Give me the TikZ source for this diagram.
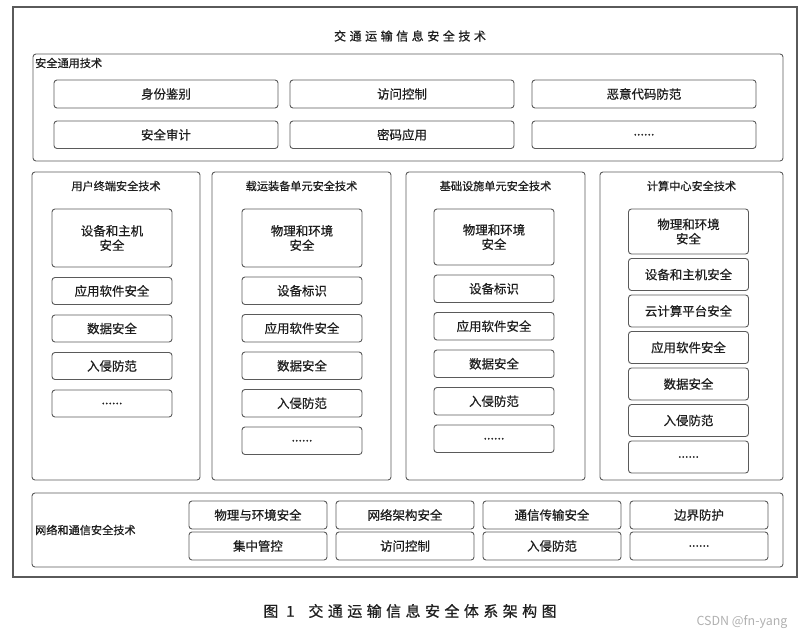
\documentclass[tikz,border=0pt]{standalone}
\usepackage{fontspec}
\setmainfont{Noto Sans CJK SC}[FakeBold=0.6]
\newfontfamily\spacedcjk[LetterSpace=30, FakeBold=0.8]{Noto Sans CJK SC}
\newfontfamily\markfont{Noto Sans CJK SC}
\usepackage{tikz}
\usetikzlibrary{positioning}
\definecolor{frameGrey}{HTML}{5A5A5A}
\definecolor{inkGrey}{HTML}{1E1E1E}
\definecolor{markGrey}{HTML}{B0B0B0}
\tikzset{
  outer/.style = {draw=frameGrey, line width=1.1bp, inner sep=0pt, outer sep=0pt},
  zone/.style  = {draw=frameGrey, line width=0.9bp, rounded corners=3bp, inner sep=0pt, outer sep=0pt},
  item/.style  = {draw=frameGrey, line width=0.9bp, rounded corners=3bp, align=center,
                  text=inkGrey, font=\fontsize{12.5}{14.5}\selectfont, inner sep=0pt, outer sep=0pt,
                  minimum width=120bp, minimum height=27.5bp},
  wide/.style  = {item, minimum width=224bp},
  net/.style   = {item, minimum width=138bp, minimum height=28bp},
  head/.style  = {text=inkGrey, font=\fontsize{11.2}{13}\selectfont, inner sep=0pt},
  lbl/.style   = {head, anchor=west}
}

\begin{document}
\begin{tikzpicture}[x=1bp, y=-1bp]
  \useasboundingbox (0,0) rectangle (808,636);
  % frame and title
  \node[outer, minimum width=784bp, minimum height=570bp] (all) at (405,292) {};
  \node[text=inkGrey, font=\spacedcjk\fontsize{12}{14}\selectfont, inner sep=0pt] (title) at (410,36) {交通运输信息安全技术};

  % common techniques
  \node[zone, minimum width=750bp, minimum height=107bp] (common) at (408,107.5) {};
  \node[lbl] (commonT) at (35,63) {安全通用技术};
  \node[wide, minimum height=28bp] (auth) at (166,94) {身份鉴别};
  \node[wide, minimum height=28bp] (acc) at (402,94) {访问控制};
  \node[wide, minimum height=28bp] (mal) at (644,94) {恶意代码防范};
  \node[wide, below=13bp of auth] (audit) {安全审计};
  \node[wide, below=13bp of acc] (crypt) {密码应用};
  \node[wide, below=13bp of mal] (cmore) {......};

  % user terminal
  \node[zone, minimum width=168bp, minimum height=308bp] (term) at (116,326) {};
  \node[head] (termT) at (116,186) {用户终端安全技术};
  \node[item, minimum height=58bp] (t1) at (112,238) {设备和主机\\安全};
  \node[item, minimum height=27bp, below=10.5bp of t1] (t2) {应用软件安全};
  \node[item, minimum height=27bp, below=10.5bp of t2] (t3) {数据安全};
  \node[item, minimum height=27bp, below=10.5bp of t3] (t4) {入侵防范};
  \node[item, minimum height=27bp, below=10.5bp of t4] (t5) {......};

  % carrier equipment
  \node[zone, minimum width=179bp, minimum height=308bp] (carr) at (301.5,326) {};
  \node[head] (carrT) at (301.5,186) {载运装备单元安全技术};
  \node[item, minimum height=58bp] (c1) at (302,238) {物理和环境\\安全};
  \node[item, below=10bp of c1] (c2) {设备标识};
  \node[item, below=10bp of c2] (c3) {应用软件安全};
  \node[item, below=10bp of c3] (c4) {数据安全};
  \node[item, below=10bp of c4] (c5) {入侵防范};
  \node[item, below=10bp of c5] (c6) {......};

  % infrastructure
  \node[zone, minimum width=179bp, minimum height=308bp] (infra) at (495.5,326) {};
  \node[head] (infraT) at (495.5,186) {基础设施单元安全技术};
  \node[item, minimum height=56bp] (i1) at (494,237) {物理和环境\\安全};
  \node[item, below=10bp of i1] (i2) {设备标识};
  \node[item, below=10bp of i2] (i3) {应用软件安全};
  \node[item, below=10bp of i3] (i4) {数据安全};
  \node[item, below=10bp of i4] (i5) {入侵防范};
  \node[item, below=10bp of i5] (i6) {......};

  % computing centre
  \node[zone, minimum width=183bp, minimum height=308bp] (comp) at (691.5,326) {};
  \node[head] (compT) at (691.5,186) {计算中心安全技术};
  \node[item, minimum height=45bp] (d1) at (688.5,231.5) {物理和环境\\安全};
  \node[item, minimum height=32bp, below=4.5bp of d1] (d2) {设备和主机安全};
  \node[item, minimum height=32bp, below=4.5bp of d2] (d3) {云计算平台安全};
  \node[item, minimum height=32bp, below=4.5bp of d3] (d4) {应用软件安全};
  \node[item, minimum height=32bp, below=4.5bp of d4] (d5) {数据安全};
  \node[item, minimum height=32bp, below=4.5bp of d5] (d6) {入侵防范};
  \node[item, minimum height=32bp, below=4.5bp of d6] (d7) {......};

  % network and communication
  \node[zone, minimum width=751bp, minimum height=74bp] (netz) at (407.5,530) {};
  \node[lbl] (netT) at (35,530) {网络和通信安全技术};
  \node[net] (n1) at (258,515) {物理与环境安全};
  \node[net, right=9bp of n1] (n2) {网络架构安全};
  \node[net, right=9bp of n2] (n3) {通信传输安全};
  \node[net, right=9bp of n3] (n4) {边界防护};
  \node[net, below=3bp of n1] (n5) {集中管控};
  \node[net, below=3bp of n2] (n6) {访问控制};
  \node[net, below=3bp of n3] (n7) {入侵防范};
  \node[net, below=3bp of n4] (n8) {......};

  % caption
  \node[text=inkGrey, font=\spacedcjk\fontsize{15}{17}\selectfont, inner sep=0pt] (cap) at (410,611) {图 1\hspace{14bp}交通运输信息安全体系架构图};
  \node[text=markGrey, font=\markfont\fontsize{12.5}{14}\selectfont, inner sep=0pt] (mark) at (742,622) {CSDN @fn-yang};
\end{tikzpicture}
\end{document}
